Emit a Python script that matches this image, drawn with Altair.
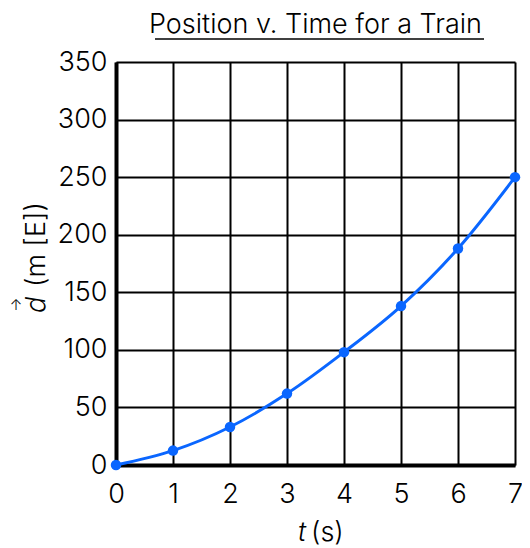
import altair as alt
import pandas as pd

# ---- data ----
t_values = [0, 1, 2, 3, 4, 5, 6, 7]
d_values = [0, 12.5, 33, 62, 98, 138, 188, 250]
x_ticks = [0, 1, 2, 3, 4, 5, 6, 7]
y_ticks = [0, 50, 100, 150, 200, 250, 300, 350]
TITLE = "Position v. Time for a Train"
X_VAR = "t"
X_UNIT = "(s)"
Y_VAR = "d"
Y_UNIT = "(m [E])"
ARROW = "↑"

FONT = "Inter"
W = 399
H = 403
LEFT = 108
BLUE = "#0a66ff"

df = pd.DataFrame({"t": t_values, "d": d_values})

x_enc = alt.X(
    "t:Q",
    scale=alt.Scale(domain=[0, 7], nice=False, zero=False),
    axis=alt.Axis(
        values=x_ticks, title=None, grid=True, gridColor="black", gridWidth=2,
        gridOpacity=1, domainColor="black", domainWidth=4, ticks=False,
        labelFont=FONT, labelFontSize=27, labelFontWeight=300, labelColor="black",
        labelPadding=16, labelFlush=False, labelOverlap=False,
    ),
)
y_enc = alt.Y(
    "d:Q",
    scale=alt.Scale(domain=[0, 350], nice=False),
    axis=alt.Axis(
        values=y_ticks, title=None, grid=True, gridColor="black", gridWidth=2,
        gridOpacity=1, domainColor="black", domainWidth=4, ticks=False,
        labelFont=FONT, labelFontSize=27, labelFontWeight=300, labelColor="black",
        labelPadding=9, labelFlush=False, labelOverlap=False,
    ),
)

base = alt.Chart(df).encode(x=x_enc, y=y_enc)
line = base.mark_line(color=BLUE, strokeWidth=3, interpolate="monotone")
pts = base.mark_point(filled=True, color=BLUE, size=110, opacity=1)


def one(txt):
    return alt.Chart(pd.DataFrame({"label": [txt]}))


title = one(TITLE).mark_text(
    font=FONT, fontSize=27, fontWeight=300, color="black", align="center",
    baseline="alphabetic",
).encode(text="label:N", x=alt.value(W / 2), y=alt.value(-29))

underline = one(TITLE).mark_rule(color="black", strokeWidth=1.5).encode(
    x=alt.value(155 - 8 - LEFT), x2=alt.value(484 - 8 - LEFT), y=alt.value(-23)
)

xt_var = one(X_VAR).mark_text(
    font=FONT, fontSize=27, fontWeight=300, fontStyle="italic", color="black",
    align="right", baseline="alphabetic",
).encode(text="label:N", x=alt.value(306 - 8 - LEFT), y=alt.value(479))
xt_unit = one(X_UNIT).mark_text(
    font=FONT, fontSize=27, fontWeight=300, color="black",
    align="left", baseline="alphabetic",
).encode(text="label:N", x=alt.value(311 - 8 - LEFT), y=alt.value(479))

yt_var = one(Y_VAR).mark_text(
    font=FONT, fontSize=27, fontWeight=300, fontStyle="italic", color="black",
    align="left", baseline="alphabetic", angle=270,
).encode(text="label:N", x=alt.value(45 - 8 - LEFT), y=alt.value(251))
yt_unit = one(Y_UNIT).mark_text(
    font=FONT, fontSize=27, fontWeight=300, color="black",
    align="left", baseline="alphabetic", angle=270,
).encode(text="label:N", x=alt.value(45 - 8 - LEFT), y=alt.value(225))
yt_arrow = one(ARROW).mark_text(
    font=FONT, fontSize=15, fontWeight=300, color="black",
    align="center", baseline="middle",
).encode(text="label:N", x=alt.value(16 - 8 - LEFT), y=alt.value(243))

chart = alt.layer(
    line, pts, title, underline, xt_var, xt_unit, yt_var, yt_unit, yt_arrow
).properties(
    width=W, height=H,
    autosize=alt.AutoSizeParams(type="none"),
    padding={"left": LEFT, "top": 54, "right": 7, "bottom": 84},
).configure_view(stroke="black", strokeWidth=2).configure(background="white")

chart.save("out.html", embed_options={"renderer": "svg", "actions": False})
